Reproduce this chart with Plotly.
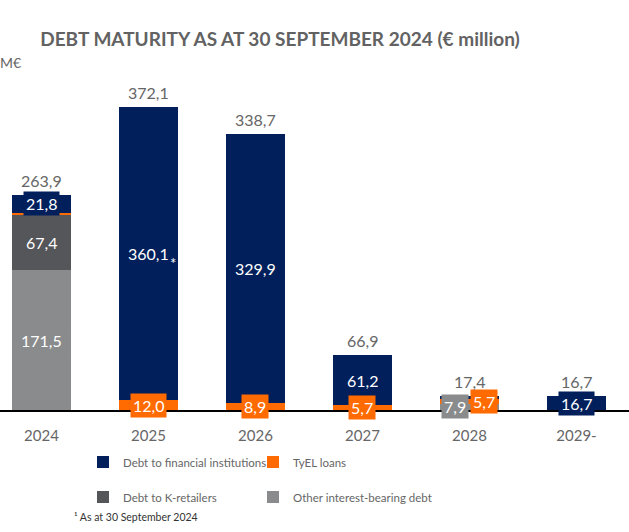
import plotly.graph_objects as go

years = ["2024", "2025", "2026", "2027", "2028", "2029-"]
other_debt = [171.5, 0, 0, 0, 7.9, 0]
k_retailers = [67.4, 0, 0, 0, 0, 0]
tyel_loans = [3.2, 12.0, 8.9, 5.7, 5.7, 0]
financial = [21.8, 360.1, 329.9, 61.2, 3.8, 16.7]
totals = [263.9, 372.1, 338.7, 66.9, 17.4, 16.7]

FONT = "Lato, sans-serif"
GREY_TXT = "#666666"

# name, values, colour, legend id, legend x (px), legend y (px), label x-shifts
series = [
    ("Other interest-bearing debt", other_debt, "#898b8c", "legend4", 253, 497, [0, 0, 0, 0, -14, 0]),
    ("Debt to K-retailers", k_retailers, "#54565a", "legend3", 83, 497, [0] * 6),
    ("TyEL loans", tyel_loans, "#ff6b00", "legend2", 253, 462, [0, 0, 0, 0, 15, 0]),
    ("Debt to financial institutions", financial, "#001f5b", "legend", 83, 462, [0] * 6),
]

PLOT_TOP, PLOT_BOTTOM = 70, 410
PLOT_H = PLOT_BOTTOM - PLOT_TOP


def fmt(v):
    return f"{v:.1f}".replace(".", ",")


def py(px):
    return (PLOT_BOTTOM - px) / PLOT_H


fig = go.Figure()
annotations = []
legends = {}
base = [0.0] * len(years)
for name, vals, color, leg, lx, ly, shifts in series:
    fig.add_trace(go.Bar(
        x=years, y=vals, name=name, marker=dict(color=color, line=dict(width=0)),
        width=0.55, legend=leg, hoverinfo="skip",
    ))
    legends[leg] = dict(
        orientation="h", x=lx / 629, xanchor="left", y=py(ly), yanchor="middle",
        font=dict(family=FONT, size=11.5, color=GREY_TXT), bgcolor="rgba(0,0,0,0)",
    )
    for i, v in enumerate(vals):
        if v >= 5:
            annotations.append(dict(
                x=i, y=base[i] + v / 2, xref="x", yref="y", text=fmt(v),
                showarrow=False, font=dict(family=FONT, size=16, color="white"),
                bgcolor=color, borderpad=2, xshift=shifts[i], yanchor="middle",
            ))
        base[i] += v

# star marker next to 360,1
annotations.append(dict(x=1, y=tyel_loans[1] + financial[1] / 2, xref="x", yref="y",
                        text="*", showarrow=False, xshift=24, yshift=-10,
                        font=dict(family=FONT, size=15, color="white")))

for i, t in enumerate(totals):
    annotations.append(dict(
        x=i, y=t, xref="x", yref="y", text=fmt(t), showarrow=False,
        yanchor="bottom", yshift=3, font=dict(family=FONT, size=16, color=GREY_TXT),
    ))

annotations.append(dict(x=0, y=py(62), xref="paper", yref="paper", text="M€",
                        showarrow=False, xanchor="left", yanchor="middle", xshift=-2,
                        font=dict(family=FONT, size=14, color=GREY_TXT)))
annotations.append(dict(x=72 / 629, y=py(517), xref="paper", yref="paper",
                        text="¹ As at 30 September 2024", showarrow=False,
                        xanchor="left", yanchor="middle",
                        font=dict(family=FONT, size=10.5, color="#333333")))

fig.update_layout(
    width=629, height=532,
    margin=dict(l=0, r=0, t=PLOT_TOP, b=532 - PLOT_BOTTOM),
    barmode="stack",
    plot_bgcolor="white", paper_bgcolor="white",
    font=dict(family=FONT, color=GREY_TXT),
    title=dict(text="<b>DEBT MATURITY AS AT 30 SEPTEMBER 2024 (€ million)</b>",
               x=280 / 629, xanchor="center", y=1 - 39 / 532, yanchor="middle",
               yref="container", font=dict(family=FONT, size=19, color="#626262")),
    xaxis=dict(type="category", range=[-0.388, 5.491], showline=True,
               linecolor="#000000", linewidth=1.5,
               ticks="", showgrid=False, zeroline=False, ticklabelstandoff=11,
               tickfont=dict(family=FONT, size=15, color=GREY_TXT)),
    yaxis=dict(range=[0, 417.2], visible=False, showgrid=False, zeroline=False),
    annotations=annotations,
    showlegend=True,
    **legends,
)

fig.write_html("out.html", config={"displayModeBar": False},
               post_script="document.body.style.margin='0';")
